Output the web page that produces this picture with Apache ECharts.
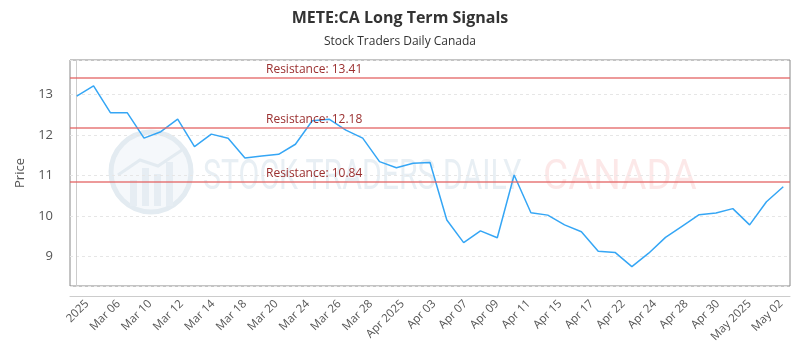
<!DOCTYPE html>
<html><head><meta charset="utf-8">
<script src="https://cdn.jsdelivr.net/npm/echarts@6/dist/echarts.min.js"></script>
<style>html,body{margin:0;padding:0;background:#fff}#c{width:800px;height:350px}</style>
</head><body><div id="c"></div>
<script>
const dates = ['Mar 04','Mar 05','Mar 06','Mar 07','Mar 10','Mar 11','Mar 12','Mar 13','Mar 14','Mar 17','Mar 18','Mar 19','Mar 20','Mar 21','Mar 24','Mar 25','Mar 26','Mar 27','Mar 28','Mar 31',
  'Apr 01','Apr 02','Apr 03','Apr 04','Apr 07','Apr 08','Apr 09','Apr 10','Apr 11','Apr 14','Apr 15','Apr 16','Apr 17','Apr 21','Apr 22','Apr 23','Apr 24','Apr 25','Apr 28','Apr 29','Apr 30',
  'May 01','May 02'];
const prices = [12.96,13.21,12.55,12.55,11.92,12.08,12.39,11.71,12.02,11.92,11.43,11.48,11.52,11.77,12.35,12.39,12.12,11.92,11.34,11.19,
  11.30,11.32,9.90,9.34,9.63,9.46,11.01,10.08,10.02,9.78,9.61,9.13,9.10,8.75,9.08,9.47,9.75,10.03,10.07,10.18,
  9.78,10.35,10.72];
const tickLabels = ['2025','Mar 06','Mar 10','Mar 12','Mar 14','Mar 18','Mar 20','Mar 24','Mar 26','Mar 28','Apr 2025','Apr 03','Apr 07','Apr 09','Apr 11','Apr 15','Apr 17','Apr 22','Apr 24','Apr 28','Apr 30','May 2025','May 02'];
const resistance = [13.41, 12.18, 10.84];
const yRange = [8.27, 13.85];

const chart = echarts.init(document.getElementById('c'), null, {renderer: 'canvas'});
const lbl = {color: '#555', fontFamily: 'Open Sans'};
chart.setOption({
  animation: false,
  title: {
    text: 'METE:CA Long Term Signals', subtext: 'Stock Traders Daily Canada',
    left: 'center', top: 5, itemGap: 10,
    textStyle: {fontSize: 16, fontWeight: 'bold', color: '#333', fontFamily: 'Open Sans'},
    subtextStyle: {fontSize: 12, color: '#333', fontFamily: 'Open Sans'}
  },
  graphic: [
    {type: 'circle', silent: true, z: 0, shape: {cx: 151, cy: 172, r: 40}, style: {fill: '#f5f8fb', stroke: '#e3ebf1', lineWidth: 5}},
    {type: 'rect', silent: true, z: 0, shape: {x: 130, y: 180, width: 7, height: 26}, style: {fill: '#e6edf3'}},
    {type: 'rect', silent: true, z: 0, shape: {x: 142, y: 168, width: 7, height: 38}, style: {fill: '#e6edf3'}},
    {type: 'rect', silent: true, z: 0, shape: {x: 154, y: 174, width: 7, height: 32}, style: {fill: '#e6edf3'}},
    {type: 'rect', silent: true, z: 0, shape: {x: 166, y: 162, width: 7, height: 44}, style: {fill: '#e6edf3'}},
    {type: 'polyline', silent: true, z: 0, shape: {points: [[118, 175], [140, 160], [158, 166], [182, 150]]}, style: {stroke: '#e3ebf1', lineWidth: 3, fill: null}},
    {type: 'text', silent: true, z: 0, x: 203, y: 178, scaleX: 0.72,
      style: {text: 'STOCK TRADERS DAILY', font: '42px Roboto', fill: '#e8eff4', verticalAlign: 'middle'}},
    {type: 'text', silent: true, z: 0, x: 543, y: 178, scaleX: 0.92,
      style: {text: 'CANADA', font: '42px Roboto', fill: 'rgba(240,130,130,0.18)', verticalAlign: 'middle'}}
  ],
  grid: [
    {left: 70, right: 10, top: 60, bottom: 64, show: true, borderColor: '#888', borderWidth: 1, backgroundColor: 'transparent'},
    {left: 87, right: 19, top: 60, bottom: 64}
  ],
  xAxis: [
    {type: 'value', gridIndex: 0, min: -0.4, max: prices.length - 1 + 0.4, offset: 10,
      axisLine: {show: true, lineStyle: {color: '#ccc'}}, axisTick: {show: false}, axisLabel: {show: false}, splitLine: {show: false}},
    {type: 'category', gridIndex: 1, data: tickLabels, boundaryGap: false, offset: 10,
      axisLine: {show: false}, axisTick: {show: false},
      axisLabel: Object.assign({rotate: 45, fontSize: 11.5, margin: 6, interval: 0}, lbl)}
  ],
  yAxis: [
    {type: 'value', gridIndex: 0, min: yRange[0], max: yRange[1], splitNumber: 5, offset: 10,
      name: 'Price', nameLocation: 'middle', nameGap: 26,
      nameTextStyle: {fontSize: 13, color: '#555', fontFamily: 'Open Sans'},
      axisLine: {show: true, lineStyle: {color: '#ccc'}}, axisTick: {show: false},
      axisLabel: Object.assign({fontSize: 13, margin: 7, showMinLabel: false, showMaxLabel: false}, lbl),
      splitLine: {show: true, lineStyle: {color: '#e6e6e6', type: [3, 3]}}},
    {type: 'value', gridIndex: 1, show: false, min: 0, max: 1}
  ],
  series: [{
    type: 'line', xAxisIndex: 0, yAxisIndex: 0, z: 3,
    data: prices.map((v, i) => [i, v]),
    showSymbol: false, symbol: 'none',
    lineStyle: {color: '#35a6f5', width: 1.5},
    markLine: {
      silent: true, symbol: 'none', animation: false,
      lineStyle: {color: 'rgba(228,100,100,0.65)', width: 2, type: 'solid'},
      label: {position: 'insideStartTop', distance: [196, 2], color: '#9b2f2f', fontSize: 12, fontFamily: 'Open Sans',
        formatter: p => 'Resistance: ' + p.value},
      data: resistance.map(v => ({yAxis: v}))
    }
  }]
});
</script></body></html>
